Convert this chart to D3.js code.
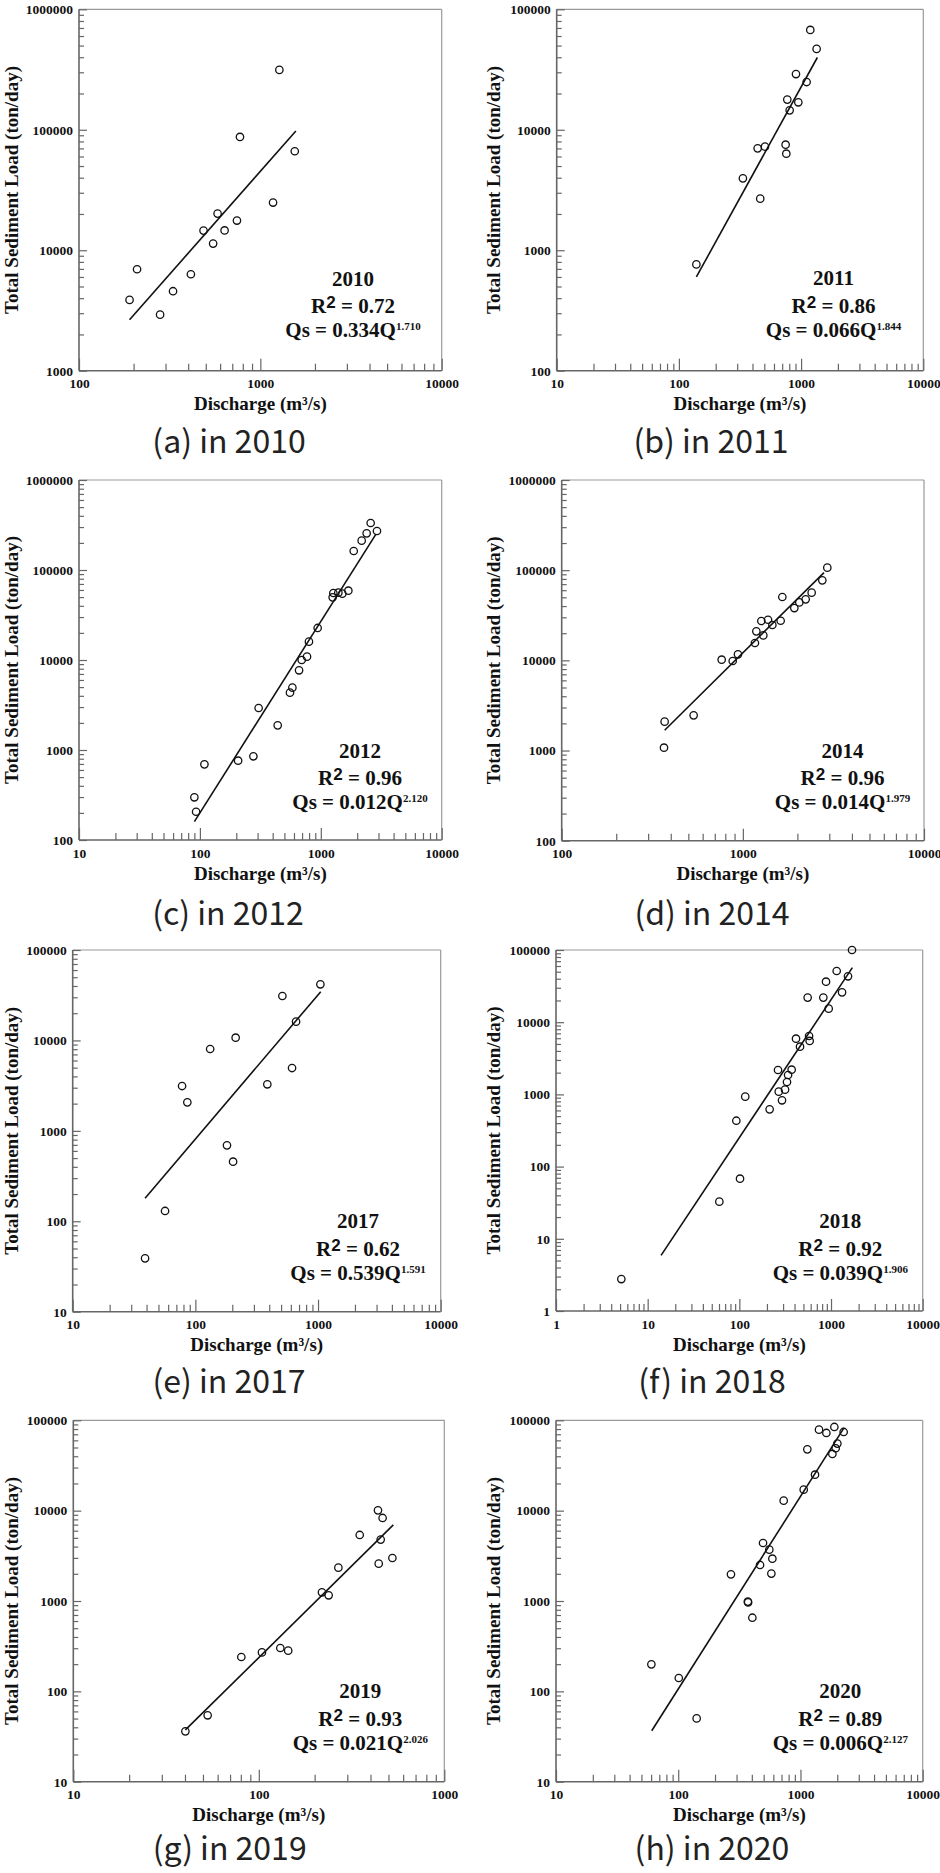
<!DOCTYPE html>
<html lang="en">
<head>
<meta charset="utf-8">
<script src="https://d3js.org/d3.v7.min.js"></script>
<style>
  body { margin: 0; background: #fff; }
  .tick text { font-family: "Liberation Serif", "Times New Roman", serif; font-weight: bold; font-size: 13.5px; fill: #111; }
  .tick line { stroke: #666; stroke-width: 1.2px; }
  .axis-title { font-family: "Liberation Serif", "Times New Roman", serif; font-weight: bold; font-size: 19px; fill: #111; }
  .note { font-family: "Liberation Serif", "Times New Roman", serif; font-weight: bold; font-size: 21px; fill: #111; }
  .sup2 { font-family: "Liberation Sans", Arial, sans-serif; font-weight: bold; font-size: 17px; }
  .caption { font-family: "Noto Sans CJK KR", "Noto Sans", sans-serif; font-weight: 400; font-size: 32px; fill: #222; }
  .point { fill: none; stroke: #111; stroke-width: 1.3px; }
  .fit { fill: none; stroke: #111; stroke-width: 1.6px; }
  .frame-dark { stroke: #666; stroke-width: 1.6px; }
  .frame-light { stroke: #999; stroke-width: 1.2px; }
</style>
</head>
<body>
<svg width="940" height="1873" id="fig"></svg>
<script>
  // DATA
  const years = [2010, 2011, 2012, 2014, 2017, 2018, 2019, 2020];
  const captions = ["(a) in 2010", "(b) in 2011", "(c) in 2012", "(d) in 2014",
                    "(e) in 2017", "(f) in 2018", "(g) in 2019", "(h) in 2020"];
  const r2Values = ["0.72", "0.86", "0.96", "0.96", "0.62", "0.92", "0.93", "0.89"];
  const coefValues = ["0.334", "0.066", "0.012", "0.014", "0.539", "0.039", "0.021", "0.006"];
  const expValues = ["1.710", "1.844", "2.120", "1.979", "1.591", "1.906", "2.026", "2.127"];
  const xDomains = [[100, 10000], [10, 10000], [10, 10000], [100, 10000],
                    [10, 10000], [1, 10000], [10, 1000], [10, 10000]];
  const yDomains = [[1000, 1000000], [100, 100000], [100, 1000000], [100, 1000000],
                    [10, 100000], [1, 100000], [10, 100000], [10, 100000]];

  // discharge (m3/s) and total sediment load (ton/day)
  const q2010 = [190, 209, 280, 330, 414, 486, 549, 581, 635, 743, 772, 1175, 1273, 1548];
  const qs2010 = [3870, 6950, 2920, 4570, 6320, 14560, 11350, 20150, 14600, 17630, 87200, 24870, 314000, 66300];
  const q2011 = [139, 334, 441, 506, 463, 747, 757, 771, 806, 949, 908, 1110, 1189, 1340];
  const qs2011 = [763, 3950, 7010, 7240, 2680, 7520, 6330, 17800, 14500, 16900, 29000, 24900, 67400, 46900];
  const q2012 = [90, 93, 109, 207, 277, 306, 440, 556, 582, 661, 695, 769, 798, 942,
                 1253, 1270, 1397, 1507, 1690, 1872, 2178, 2395, 2585, 2915];
  const qs2012 = [298, 206, 693, 761, 851, 2930, 1880, 4340, 4930, 7680, 10000, 10900, 16000, 22700,
                  49700, 55500, 56000, 54600, 58900, 162600, 211800, 255500, 332700, 271300];
  const q2014 = [370, 367, 535, 764, 879, 940, 1166, 1187, 1265, 1297, 1377, 1455, 1617, 1652,
                 1924, 2050, 2222, 2398, 2746, 2926];
  const qs2014 = [2090, 1075, 2455, 10170, 9830, 11670, 15570, 20970, 27300, 18900, 28200, 24650, 27500, 50400,
                  38000, 43900, 47500, 56300, 77100, 106600];
  const q2017 = [38.9, 56.6, 77.9, 86, 132, 181, 203, 213, 386, 512, 614, 662, 1045];
  const qs2017 = [38.9, 130, 3130, 2066, 8040, 691, 456, 10720, 3270, 31000, 4950, 16120, 41740];
  const q2018 = [5.16, 60.5, 101.7, 92.7, 116, 214, 264, 269, 292, 315, 331, 340, 372, 415, 459,
                 576, 585, 556, 824, 882, 943, 1153, 1319, 1532, 1694];
  const qs2018 = [2.77, 32.7, 68, 432, 931, 621, 2178, 1091, 828, 1163, 1485, 1857, 2200, 5910, 4580,
                  6440, 5500, 21900, 21900, 36400, 15400, 51200, 25900, 43200, 100000];
  const q2019 = [40.2, 53, 80.5, 104, 130.6, 144, 219, 238, 268.5, 350, 439, 465, 454, 443, 525];
  const qs2019 = [36.1, 54.3, 240, 270, 302, 282, 1247, 1156, 2340, 5380, 10080, 8300, 4780, 2590, 2990];
  const q2020 = [60.3, 101, 141.5, 270, 371, 373, 404, 467, 494, 556, 589, 578, 729, 1063, 1138,
                 1315, 1418, 1629, 1893, 2256, 2004, 1942, 1824];
  const qs2020 = [199, 140.6, 50.2, 1973, 985, 965, 653, 2505, 4385, 3700, 2940, 2010, 12900, 17080, 47700,
                  25000, 78800, 72400, 84400, 74300, 55200, 49000, 42400];

  // regression line end points [Q, Qs] as drawn
  const fit2010 = [[190, 2650], [1570, 97600]];
  const fit2011 = [[139, 600], [1358, 39800]];
  const fit2012 = [[90, 160], [2860, 250000]];
  const fit2014 = [[370, 1680], [2805, 94000]];
  const fit2017 = [[38.9, 180], [1052, 34600]];
  const fit2018 = [[14, 5.9], [1709, 57000]];
  const fit2019 = [[40.2, 37.4], [531, 6960]];
  const fit2020 = [[60.7, 36.6], [2270, 82300]];

  const dischargeSets = [q2010, q2011, q2012, q2014, q2017, q2018, q2019, q2020];
  const loadSets = [qs2010, qs2011, qs2012, qs2014, qs2017, qs2018, qs2019, qs2020];
  const fitSets = [fit2010, fit2011, fit2012, fit2014, fit2017, fit2018, fit2019, fit2020];
  //END DATA

  // LAYOUT (plot frames, text anchors)
  const frames = [
    {x0: 79, x1: 441.7, y0: 9.3, y1: 370.7, titleX: 17.6, noteX: 353, noteY: 285.7, capX: 229, capY: 453},
    {x0: 556.7, x1: 923.3, y0: 9.3, y1: 370.7, titleX: 499.5, noteX: 833.5, noteY: 285.3, capX: 711, capY: 453},
    {x0: 79, x1: 441.7, y0: 480, y1: 840, titleX: 17.6, noteX: 360, noteY: 757.7, capX: 228, capY: 925},
    {x0: 561.7, x1: 924, y0: 480, y1: 840.7, titleX: 499.5, noteX: 842.5, noteY: 757.7, capX: 712, capY: 925},
    {x0: 72.7, x1: 440.7, y0: 950, y1: 1311.7, titleX: 17.6, noteX: 358, noteY: 1228.3, capX: 229, capY: 1393},
    {x0: 556, x1: 922.7, y0: 950, y1: 1311, titleX: 499.5, noteX: 840.3, noteY: 1228.3, capX: 712, capY: 1393},
    {x0: 73.3, x1: 444.3, y0: 1420.3, y1: 1781.7, titleX: 17.6, noteX: 360.3, noteY: 1698, capX: 229.7, capY: 1860},
    {x0: 556, x1: 922.7, y0: 1420.3, y1: 1781.7, titleX: 499.5, noteX: 840.3, noteY: 1698, capX: 712, capY: 1860}
  ];

  let svg = d3.select("svg#fig");

  // decade and 2..9 sub-decade tick values of a log domain
  function logTicks(domain) {
    let major = [], minor = [];
    let e0 = Math.round(Math.log10(domain[0])), e1 = Math.round(Math.log10(domain[1]));
    for (let e = e0; e <= e1; e++) {
      major.push(Math.pow(10, e));
      if (e < e1) {
        for (let k = 2; k <= 9; k++) minor.push(k * Math.pow(10, e));
      }
    }
    return {major: major, minor: minor};
  }

  years.forEach((yr, i) => {
    let f = frames[i];
    let g = svg.append("g");

    let x = d3.scaleLog().domain(xDomains[i]).range([f.x0, f.x1]);
    let y = d3.scaleLog().domain(yDomains[i]).range([f.y1, f.y0]);

    let xt = logTicks(xDomains[i]);
    let yt = logTicks(yDomains[i]);

    // top / right border (light)
    g.append("line").attr("class", "frame-light")
      .attr("x1", f.x0).attr("x2", f.x1).attr("y1", f.y0).attr("y2", f.y0);
    g.append("line").attr("class", "frame-light")
      .attr("x1", f.x1).attr("x2", f.x1).attr("y1", f.y0).attr("y2", f.y1);

    // minor ticks
    g.append("g").attr("transform", "translate(0," + f.y1 + ")")
      .call(d3.axisBottom(x).tickValues(xt.minor).tickSize(-7).tickFormat(""))
      .call(a => a.select(".domain").remove());
    g.append("g").attr("transform", "translate(" + f.x0 + ",0)")
      .call(d3.axisLeft(y).tickValues(yt.minor).tickSize(-5).tickFormat(""))
      .call(a => a.select(".domain").remove());

    // major ticks with labels
    g.append("g").attr("transform", "translate(0," + f.y1 + ")")
      .call(d3.axisBottom(x).tickValues(xt.major).tickSize(-12).tickPadding(8).tickFormat(d3.format("d")))
      .call(a => a.select(".domain").remove());
    g.append("g").attr("transform", "translate(" + f.x0 + ",0)")
      .call(d3.axisLeft(y).tickValues(yt.major).tickSize(-8).tickPadding(6).tickFormat(d3.format("d")))
      .call(a => a.select(".domain").remove());

    // left / bottom axis lines
    g.append("line").attr("class", "frame-dark")
      .attr("x1", f.x0).attr("x2", f.x1).attr("y1", f.y1).attr("y2", f.y1);
    g.append("line").attr("class", "frame-dark")
      .attr("x1", f.x0).attr("x2", f.x0).attr("y1", f.y0).attr("y2", f.y1);

    // axis titles
    g.append("text").attr("class", "axis-title")
      .attr("text-anchor", "middle")
      .attr("x", (f.x0 + f.x1) / 2).attr("y", f.y1 + 39.5)
      .text("Discharge (m³/s)");
    g.append("text").attr("class", "axis-title")
      .attr("text-anchor", "middle")
      .attr("transform", "translate(" + f.titleX + "," + (f.y0 + f.y1) / 2 + ") rotate(-90)")
      .text("Total Sediment Load (ton/day)");

    // regression line
    let line = d3.line().x(d => x(d[0])).y(d => y(d[1]));
    g.append("path").datum(fitSets[i]).attr("class", "fit").attr("d", line);

    // observations
    g.selectAll("circle.point")
      .data(dischargeSets[i].map((q, j) => [q, loadSets[i][j]]))
      .enter()
      .append("circle")
      .attr("class", "point")
      .attr("cx", d => x(d[0]))
      .attr("cy", d => y(d[1]))
      .attr("r", 3.7);

    // annotation
    g.append("text").attr("class", "note").attr("text-anchor", "middle")
      .attr("x", f.noteX).attr("y", f.noteY).text(yr);
    let r2 = g.append("text").attr("class", "note").attr("text-anchor", "middle")
      .attr("x", f.noteX).attr("y", f.noteY + 27.5);
    r2.append("tspan").text("R");
    r2.append("tspan").attr("class", "sup2").attr("dy", -5).text("2");
    r2.append("tspan").attr("dy", 5).text(" = " + r2Values[i]);
    let eq = g.append("text").attr("class", "note").attr("text-anchor", "middle")
      .attr("x", f.noteX).attr("y", f.noteY + 51.5);
    eq.append("tspan").text("Qs = " + coefValues[i] + "Q");
    eq.append("tspan").attr("dy", -7).style("font-size", "11px").text(expValues[i]);

    // caption
    svg.append("text").attr("class", "caption").attr("text-anchor", "middle")
      .attr("x", f.capX).attr("y", f.capY).text(captions[i]);
  });
</script>
</body>
</html>
